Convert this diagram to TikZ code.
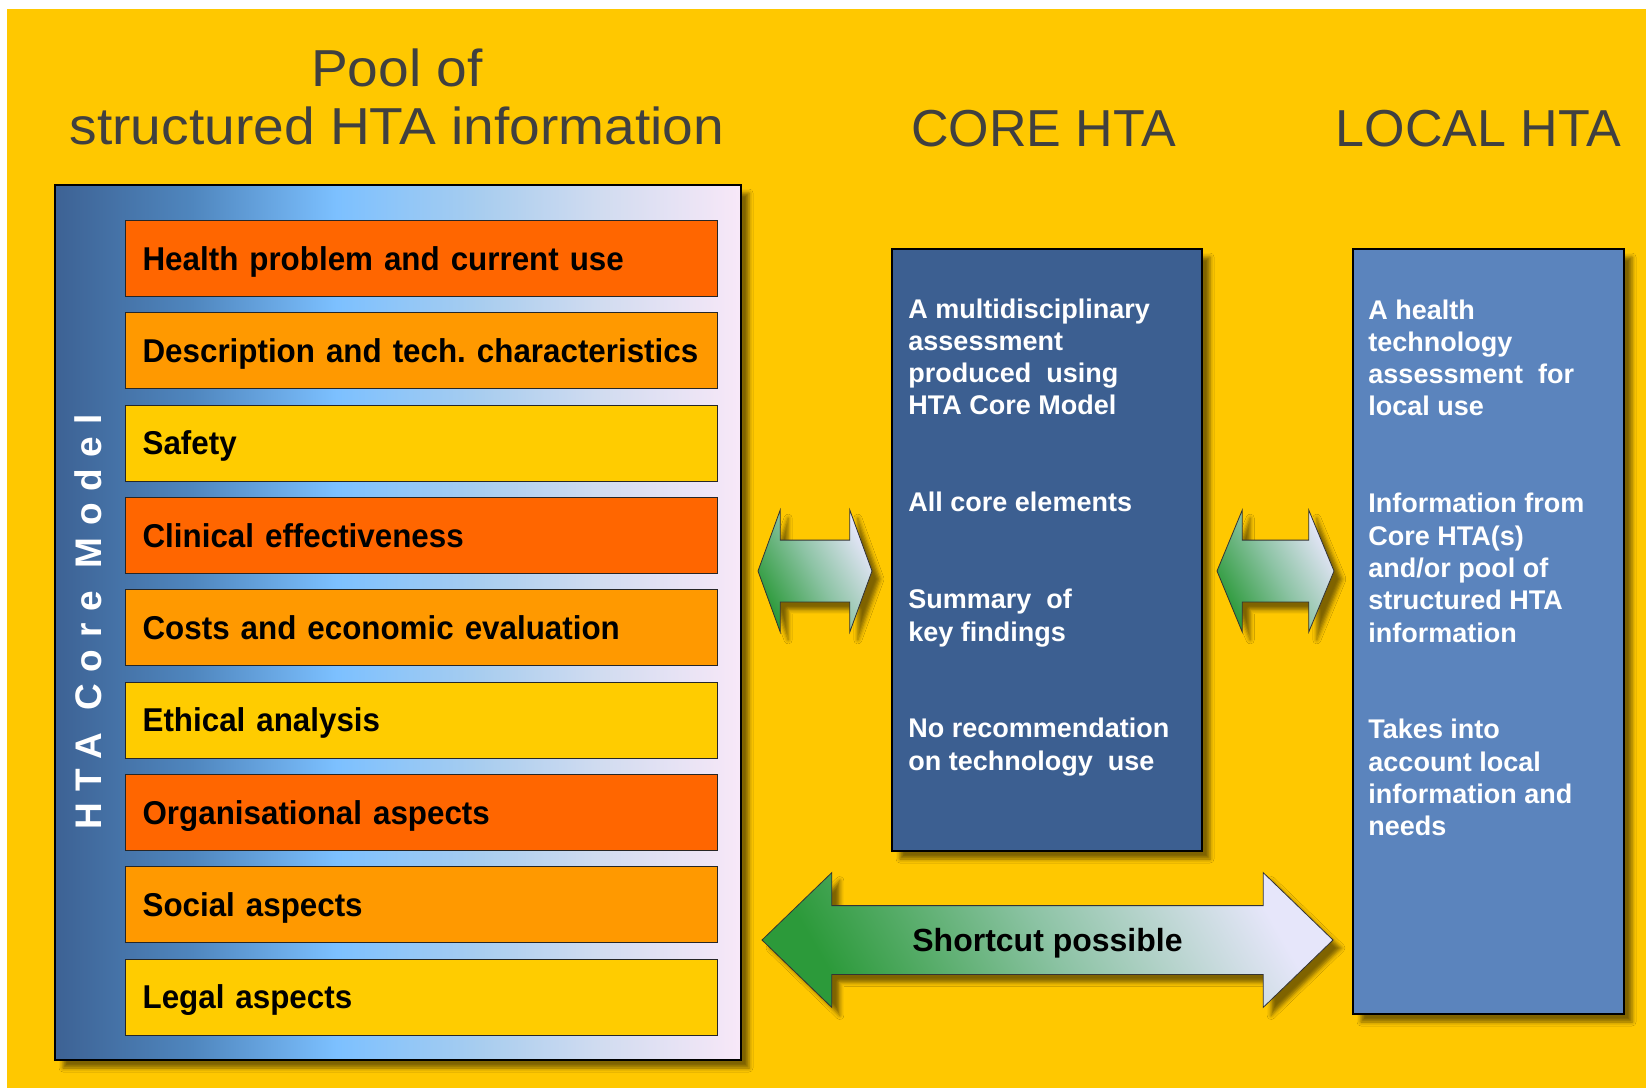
\documentclass[tikz,border=0pt]{standalone}
\usepackage{fontspec}
\setmainfont{Liberation Sans}
\newfontfamily\poolfont[FakeStretch=1.06]{Liberation Sans}
\newfontfamily\barfont[FakeStretch=0.95]{Liberation Sans}
\newfontfamily\spacedfont[LetterSpace=32]{Liberation Sans}
\usetikzlibrary{positioning, shapes.arrows, shadows.blur}

\definecolor{bgyellow}{HTML}{FFC800}
\definecolor{titlegray}{HTML}{404040}
\definecolor{barred}{HTML}{FF6600}
\definecolor{barorange}{HTML}{FF9900}
\definecolor{baryellow}{HTML}{FFCC00}
\definecolor{coreblue}{HTML}{3C5F91}
\definecolor{localblue}{HTML}{5B84BD}
\definecolor{poolleft}{HTML}{3D6294}
\definecolor{poolmidA}{HTML}{4F86BE}
\definecolor{poolbright}{HTML}{7CC0FF}
\definecolor{poolmidB}{HTML}{A8CDEF}
\definecolor{poolmidC}{HTML}{D2DCF0}
\definecolor{poolright}{HTML}{F8E8F8}
\definecolor{arrowgreen}{HTML}{2C9A3A}
\definecolor{arrowmid}{HTML}{8CC3A4}
\definecolor{arrowlight}{HTML}{E6E6FA}

\pgfdeclarehorizontalshading{poolshade}{100bp}{color(0bp)=(poolleft); color(25bp)=(poolleft); color(35bp)=(poolmidA); color(45.5bp)=(poolbright); color(56bp)=(poolmidB); color(65bp)=(poolmidC); color(75bp)=(poolright); color(100bp)=(poolright)}

\tikzstyle{softshadow} = [blur shadow={shadow xshift=8pt, shadow yshift=-8pt, shadow blur radius=4pt, shadow opacity=50}]
\tikzstyle{title} = [font=\fontsize{52}{58}\selectfont, text=titlegray, inner sep=0, align=center]
\tikzstyle{poolbox} = [draw=black, line width=1.5pt, shade, shading=poolshade, softshadow, minimum width=686, minimum height=875]
\tikzstyle{bar} = [draw=black!85, line width=0.8pt, minimum height=76, text width=558, inner xsep=17, inner ysep=0, text height=23.6pt, text depth=0pt, align=left, font=\barfont\bfseries\frenchspacing\fontsize{33}{36}\selectfont]
\tikzstyle{redbar} = [bar, fill=barred]
\tikzstyle{orangebar} = [bar, fill=barorange]
\tikzstyle{yellowbar} = [bar, fill=baryellow]
\tikzstyle{sidelabel} = [rotate=90, text=white, inner sep=0, font=\spacedfont\bfseries\fontsize{37}{40}\selectfont]
\tikzstyle{infobox} = [draw=black, line width=1.5pt, softshadow]
\tikzstyle{boxtext} = [text=white, inner sep=0, align=left, font=\bfseries\fontsize{27}{32.3}\selectfont]
\tikzstyle{twoway} = [double arrow, draw=black!80, line width=0.8pt, inner sep=0, top color=arrowlight, bottom color=arrowgreen, middle color=arrowmid, shading angle=-60, softshadow]
\tikzstyle{smallway} = [twoway, text height=61pt, text depth=0pt, double arrow head extend=30]

\begin{document}
\begin{tikzpicture}[x=1pt, y=-1pt]
    \useasboundingbox (0,0) rectangle (1646,1088);
    \fill[white] (0,0) rectangle (1646,1088);
    \fill[bgyellow] (7,9) rectangle (1646,1088);

    % headings
    \node (pooltitle) [title, anchor=north, font=\poolfont\fontsize{52}{58}\selectfont] at (397,49) {Pool of\\structured HTA information};
    \node (coretitle) [title, anchor=base] at (1043.5,146) {CORE HTA};
    \node (localtitle) [title, anchor=base] at (1478.5,146) {LOCAL HTA};

    % pool of structured information
    \node (pool) [poolbox] at (398,622.5) {};
    \node (vlabel) [sidelabel] at (88,622) {HTA Core Model};
    \node (health) [redbar] at (421.6,258.5) {Health problem and current use};
    \node (descr) [orangebar, below=15.5pt of health] {Description and tech. characteristics};
    \node (safety) [yellowbar, below=15.5pt of descr] {Safety};
    \node (clinic) [redbar, below=15.5pt of safety] {Clinical effectiveness};
    \node (costs) [orangebar, below=15.5pt of clinic] {Costs and economic evaluation};
    \node (ethics) [yellowbar, below=15.5pt of costs] {Ethical analysis};
    \node (organ) [redbar, below=15.5pt of ethics] {Organisational aspects};
    \node (social) [orangebar, below=15.5pt of organ] {Social aspects};
    \node (legal) [yellowbar, below=15.5pt of social] {Legal aspects};

    % core and local boxes
    \node (core) [infobox, fill=coreblue, minimum width=310, minimum height=602] at (1047,550) {};
    \node (coretext) [boxtext, below right=50pt and 17pt of core.north west] {A multidisciplinary\\assessment\\produced~ using\\HTA Core Model\\[64.6pt]All core elements\\[64.6pt]Summary~ of\\key findings\\[64.6pt]No recommendation\\on technology~ use};
    \node (local) [infobox, fill=localblue, minimum width=271, minimum height=765] at (1488.5,631.5) {};
    \node (localtext) [boxtext, below right=51pt and 16pt of local.north west] {A health\\technology\\assessment~ for\\local use\\[64.6pt]Information from\\Core HTA(s)\\and/or pool of\\structured HTA\\information\\[64.6pt]Takes into\\account local\\information and\\needs};

    % arrows between the columns
    \node (poolcore) [smallway, minimum height=114, double arrow tip angle=140] at (815,571) {};
    \node (corelocal) [smallway, minimum height=117, double arrow tip angle=135] at (1275.5,571) {};
    \node (shortcut) [twoway, text height=45.5pt, text depth=22.5pt, minimum height=571, double arrow head extend=33, double arrow tip angle=88, font=\bfseries\fontsize{32}{36}\selectfont] at (1047.5,940) {Shortcut possible};
\end{tikzpicture}
\end{document}
